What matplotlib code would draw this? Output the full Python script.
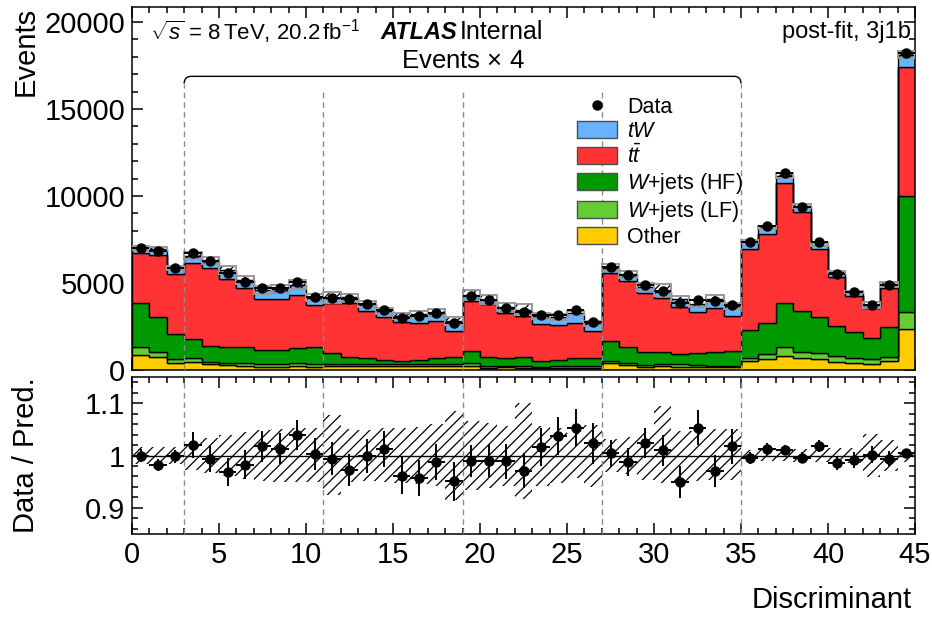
import numpy as np
import matplotlib.pyplot as plt
import matplotlib.transforms as mtransforms
from matplotlib.path import Path
from matplotlib.patches import PathPatch, Patch
from matplotlib.lines import Line2D
from matplotlib.ticker import MultipleLocator, FuncFormatter

plt.rcParams['font.family'] = 'Liberation Sans'
plt.rcParams['mathtext.fontset'] = 'custom'
plt.rcParams['mathtext.rm'] = 'Liberation Sans'
plt.rcParams['mathtext.it'] = 'Liberation Sans:italic'
plt.rcParams['mathtext.bf'] = 'Liberation Sans:bold'
plt.rcParams['hatch.linewidth'] = 0.9

# 45 bins of the discriminant, bins 3..34 are shown scaled by 4
data = [6990, 6820, 5840, 6700, 6250, 5560, 5080, 4690, 4690, 5080,
        4170, 4120, 4060, 3790, 3450, 2970, 3100, 3260, 2680, 4250,
        4000, 3580, 3350, 3180, 3160, 3450, 2740, 5900, 5440, 4890,
        4540, 3870, 4020, 3980, 3740, 7340, 8280, 11300, 9390, 7340,
        5520, 4460, 3740, 4890, 18200]
other = [860, 730, 385, 480, 345, 270, 250, 190, 190, 250,
         190, 230, 230, 230, 230, 230, 230, 230, 230, 230,
         130, 150, 120, 100, 120, 130, 120, 385, 290, 190,
         250, 190, 170, 170, 170, 517, 615, 820, 670, 632,
         477, 420, 345, 517, 2340]
wjets_lf = [440, 320, 230, 190, 135, 150, 135, 155, 140, 170,
            155, 115, 115, 115, 115, 115, 115, 115, 115, 155,
            100, 100, 130, 90, 90, 100, 90, 150, 130, 100,
            80, 140, 100, 80, 60, 193, 305, 480, 380, 363,
            343, 250, 270, 248, 1010]
wjets_hf = [2530, 2015, 1435, 1110, 900, 920, 915, 805, 820, 860,
            975, 615, 385, 325, 230, 190, 230, 325, 385, 705,
            535, 460, 480, 345, 365, 440, 500, 1155, 920, 760,
            720, 590, 690, 800, 860, 1590, 1800, 2570, 2360, 2035,
            1730, 1500, 1245, 1685, 6670]
ttbar = [2870, 3545, 3450, 4390, 4500, 3890, 3390, 2930, 2930, 3030,
         2430, 2910, 3100, 2740, 2455, 2245, 2145, 2150, 1510, 2890,
         3005, 2580, 2370, 2105, 2025, 2050, 1550, 3870, 3790, 3390,
         3070, 2720, 2390, 2490, 2030, 4640, 5100, 6860, 5650, 3920,
         2810, 2100, 1720, 2240, 7410]
tw = [290, 335, 350, 400, 410, 510, 480, 530, 550, 580,
      410, 275, 347, 380, 375, 310, 520, 480, 580, 317,
      270, 330, 350, 487, 447, 556, 418, 317, 376, 335,
      375, 438, 468, 559, 554, 430, 354, 447, 368, 260,
      244, 230, 153, 230, 697]
scale = [1] * 3 + [4] * 32 + [1] * 10

# relative uncertainty of the total prediction (up / down)
band_up = [0.017, 0.017, 0.017, 0.028, 0.033, 0.040, 0.044, 0.048, 0.050, 0.052,
           0.052, 0.078, 0.050, 0.048, 0.052, 0.052, 0.054, 0.060, 0.085, 0.065,
           0.062, 0.056, 0.100, 0.056, 0.053, 0.043, 0.058, 0.032, 0.035, 0.044,
           0.094, 0.047, 0.047, 0.050, 0.051, 0.011, 0.011, 0.011, 0.012, 0.013,
           0.015, 0.015, 0.042, 0.030, 0.012]
band_dn = [0.017, 0.017, 0.017, 0.028, 0.033, 0.040, 0.044, 0.048, 0.050, 0.050,
           0.050, 0.075, 0.050, 0.048, 0.050, 0.052, 0.055, 0.058, 0.085, 0.065,
           0.062, 0.058, 0.084, 0.058, 0.052, 0.043, 0.060, 0.032, 0.036, 0.046,
           0.052, 0.049, 0.049, 0.046, 0.046, 0.011, 0.011, 0.011, 0.012, 0.013,
           0.015, 0.015, 0.042, 0.030, 0.012]

boundaries = [3, 11, 19, 27, 35]

samples = [
    ('Other', other, '#ffcc00'),
    (r'$W$+jets (LF)', wjets_lf, '#66cc33'),
    (r'$W$+jets (HF)', wjets_hf, '#009900'),
    (r'$t\bar{t}$', ttbar, '#ff3333'),
    (r'$tW$', tw, '#66b3ff'),
]

edges = np.arange(len(data) + 1)
centers = edges[:-1] + 0.5
data = np.array(data, dtype=float)
scale = np.array(scale, dtype=float)
up = np.array(band_up)
dn = np.array(band_dn)

fig = plt.figure(figsize=(9.32, 6.21), dpi=100)
ax = fig.add_axes([0.1416, 0.4042, 0.8402, 0.5845])
rax = fig.add_axes([0.1416, 0.1401, 0.8402, 0.2528])

# stacked prediction
bottom = np.zeros(len(data))
for label, vals, col in samples:
    top = bottom + np.array(vals, dtype=float)
    ax.stairs(top, edges, baseline=bottom, fill=True, facecolor=col,
              edgecolor='black', linewidth=1, zorder=2)
    bottom = top
total = bottom

# prediction uncertainty
ax.bar(edges[:-1], total * (up + dn), bottom=total * (1 - dn), width=1,
       align='edge', fill=False, hatch='///', edgecolor='black', linewidth=0, zorder=3)
ax.bar(edges[:-1], total * (up + dn), bottom=total * (1 - dn), width=1,
       align='edge', fill=False, edgecolor='0.6', linewidth=1.4, zorder=3)

stat = np.sqrt(data * scale)
ax.errorbar(centers, data, yerr=stat, xerr=0.5, fmt='o', color='black',
            ms=6.5, elinewidth=1.4, capsize=0, zorder=5)

ax.set_xlim(0, 45)
ax.set_ylim(0, 20860)

# ratio panel
ratio = data / total
ratio_err = stat / total
rax.bar(edges[:-1], up + dn, bottom=1 - dn, width=1, align='edge', fill=False,
        hatch='///', edgecolor='black', linewidth=0, zorder=2)
rax.axhline(1, color='black', lw=1, zorder=3)
rax.errorbar(centers, ratio, yerr=ratio_err, xerr=0.5, fmt='o', color='black',
             ms=6.5, elinewidth=1.4, capsize=0, zorder=5)
rax.set_xlim(0, 45)
rax.set_ylim(0.85, 1.15)

trans = mtransforms.blended_transform_factory(ax.transData, ax.transAxes)
y_end, y_line = 0.789, 0.809
for xb in boundaries:
    ytop = y_end if xb in (3, 35) else 0.777
    ax.axvline(xb, ymax=ytop, color='0.55', ls=(0, (4, 3)), lw=1, zorder=4)
    rax.axvline(xb, color='0.55', ls=(0, (4, 3)), lw=1, zorder=4)

# brace over the scaled region
verts = [(3, y_end), (3, y_line), (3.4, y_line), (34.6, y_line), (35, y_line), (35, y_end)]
codes = [Path.MOVETO, Path.CURVE3, Path.CURVE3, Path.LINETO, Path.CURVE3, Path.CURVE3]
ax.add_patch(PathPatch(Path(verts, codes), transform=trans, fill=False,
                       edgecolor='black', lw=1, zorder=4))
ax.text(19, 0.850, r'Events $\times$ 4', transform=trans, ha='center',
        va='center', fontsize=18.5)

ax.text(0.023, 0.931, r'$\sqrt{s}$ = 8$\,$TeV, 20.2$\,$fb$^{-1}$', transform=ax.transAxes,
        fontsize=16, va='center')
ax.text(0.317, 0.931, 'ATLAS', transform=ax.transAxes, fontsize=17, va='center',
        weight='bold', style='italic')
ax.text(0.419, 0.931, 'Internal', transform=ax.transAxes, fontsize=18, va='center')
ax.text(0.995, 0.931, 'post-fit, 3j1b', transform=ax.transAxes, fontsize=17,
        va='center', ha='right')

handles = [Line2D([], [], marker='o', color='black', ls='none', ms=6.5)]
for label, vals, col in samples[::-1]:
    handles.append(Patch(facecolor=col, edgecolor='0.3', linewidth=1))
labels = ['Data'] + [s[0] for s in samples[::-1]]
ax.legend(handles, labels, loc='upper left', bbox_to_anchor=(0.568, 0.752),
          frameon=False, fontsize=15.5, borderpad=0, borderaxespad=0,
          labelspacing=0.14, handlelength=1.85, handleheight=0.85,
          handletextpad=0.5)

for a in (ax, rax):
    a.xaxis.set_major_locator(MultipleLocator(5))
    a.xaxis.set_minor_locator(MultipleLocator(1))
    a.tick_params(which='both', direction='in', top=True, right=True,
                  labelsize=21, width=1.1)
    a.tick_params(which='major', length=8, pad=5)
    a.tick_params(which='minor', length=4)
    for sp in a.spines.values():
        sp.set_linewidth(1.1)
ax.yaxis.set_major_locator(MultipleLocator(5000))
ax.yaxis.set_minor_locator(MultipleLocator(1000))
ax.tick_params(labelbottom=False)
rax.yaxis.set_major_locator(MultipleLocator(0.1))
rax.yaxis.set_minor_locator(MultipleLocator(0.02))
rax.yaxis.set_major_formatter(FuncFormatter(lambda v, p: f'{v:g}'))

ax.set_ylabel('Events', loc='top', fontsize=21)
ax.yaxis.set_label_coords(-0.118, 1.0)
rax.set_ylabel('Data / Pred.', fontsize=21)
rax.yaxis.set_label_coords(-0.118, 0.5)
rax.set_xlabel('Discriminant', loc='right', fontsize=21)
rax.xaxis.set_label_coords(0.996, -0.33)

fig.savefig('out.png', dpi=100)
